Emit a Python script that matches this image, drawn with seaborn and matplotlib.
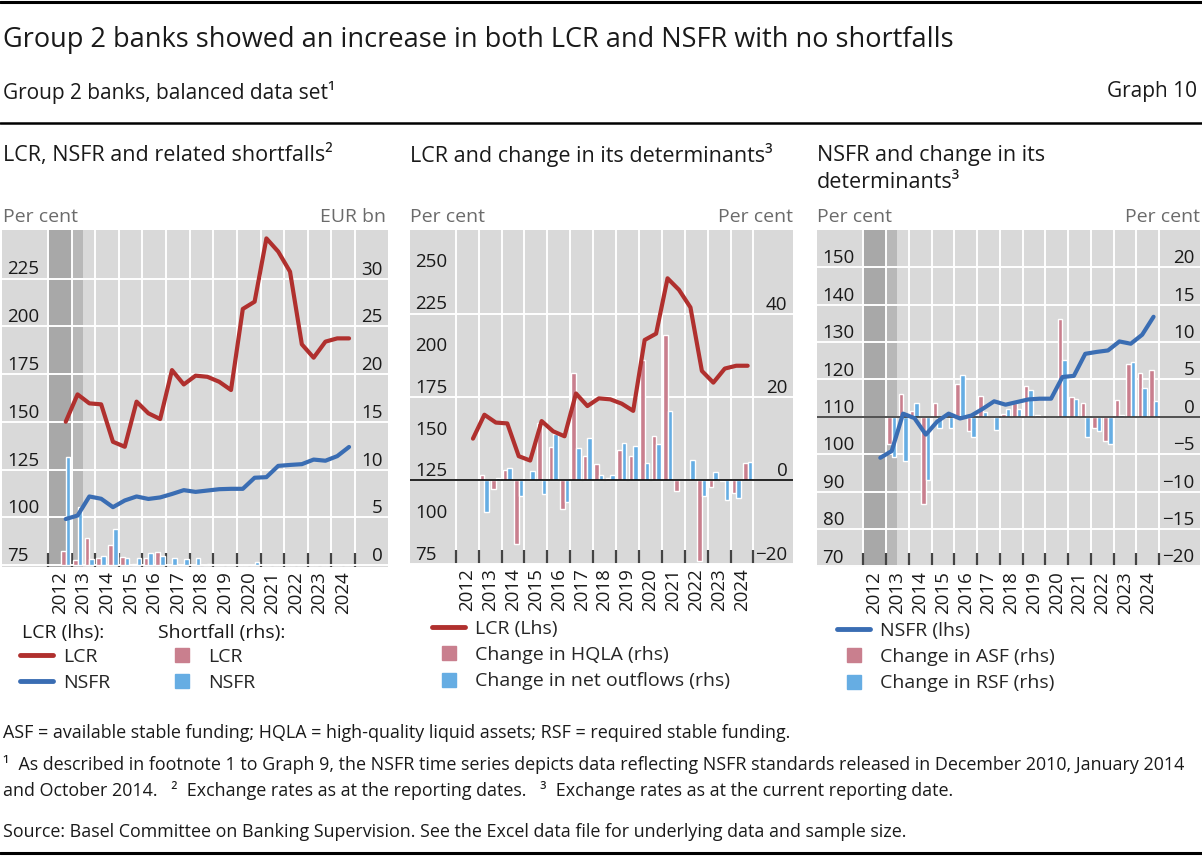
import numpy as np
import pandas as pd
import matplotlib
matplotlib.use("Agg")
import matplotlib.pyplot as plt
import seaborn as sns
from matplotlib.lines import Line2D

sns.set_theme(style="white")
plt.rcParams['font.family'] = ['Open Sans', 'DejaVu Sans']

# ---------------- data ----------------
periods = ["2012H2", "2013H1", "2013H2", "2014H1", "2014H2", "2015H1", "2015H2", "2016H1", "2016H2",
           "2017H1", "2017H2", "2018H1", "2018H2", "2019H1", "2019H2", "2020H1", "2020H2",
           "2021H1", "2021H2", "2022H1", "2022H2", "2023H1", "2023H2", "2024H1", "2024H2"]
lcr = [150.0, 164.3, 159.6, 159.1, 139.5, 136.9, 160.5, 154.4, 151.4, 177.0, 169.5, 174.1, 173.5,
       170.9, 166.6, 209.0, 212.8, 245.9, 239.0, 228.5, 190.5, 183.5, 191.9, 193.6, 193.6]
nsfr = [99.1, 100.9, 110.9, 109.7, 105.3, 108.8, 110.9, 109.6, 110.4, 112.2, 114.2, 113.3, 114.0,
        114.7, 114.9, 114.9, 120.7, 121.0, 126.9, 127.4, 127.8, 130.2, 129.6, 132.0, 136.8]
short_lcr = [1.5, 0.5, 2.8, 0.7, 2.1, 0.8, 0.1, 0.7, 1.4, 0, 0, 0, 0, 0, 0, 0, 0, 0, 0, 0, 0, 0, 0, 0, 0]
short_nsfr = [11.3, 6.1, 0.6, 0.9, 3.8, 0.7, 0.7, 1.3, 0.9, 0.7, 0.6, 0.7, 0.1, 0, 0, 0, 0.35, 0, 0, 0, 0, 0, 0, 0, 0]
# changes (from 2013H1 onwards)
chg_hqla = [1.3, -2.0, 2.5, -15.4, 0.4, 13.9, 8.0, -6.9, 25.7, 5.9, 4.0, 0.6, 7.2, 5.9, 29.0, 10.6,
            35.0, -2.6, 0.0, -19.3, -1.7, -0.2, -3.1, 4.3]
chg_outflows = [-7.5, 0.6, 2.9, -3.8, 2.3, -3.2, 11.2, -5.1, 7.8, 10.3, 1.3, 1.2, 9.1, 8.3, 4.3, 8.7,
                16.7, 0.0, 4.9, -3.8, 2.0, -4.6, -4.3, 4.4]
chg_asf = [-3.7, 3.1, 0.8, -11.7, 1.9, 0.0, 4.4, -1.9, 2.8, 0.0, 0.4, 1.8, 4.1, 0.2, 0.0, 13.1,
           2.6, 1.9, -1.5, -3.2, 2.2, 7.1, 5.9, 6.2]
chg_rsf = [-5.4, -5.9, 1.9, -8.5, -1.5, -1.5, 5.6, -2.7, 0.7, -1.8, 1.0, 1.0, 3.6, 0.0, 0.0, 7.6,
           2.4, -2.7, -1.9, -3.7, 0.3, 7.3, 3.9, 2.1]
years = list(range(2012, 2025))

def pos(p):
    return int(p[:4]) + (0.25 if p.endswith("H1") else 0.75)

x_all = np.array([pos(p) for p in periods])
x_chg = x_all[1:]
df = pd.DataFrame({"x": x_all, "LCR": lcr, "NSFR": nsfr})

RED = "#b0302e"
BLUE = "#3a6db3"
PINK = "#c97f8e"
LBLUE = "#66ade3"
BG = "#d9d9d9"
TXT = "#1a1a1a"
GREY = "#6b6b6b"
TICK = 13.5

W, H = 1202, 857
fig = plt.figure(figsize=(W / 100, H / 100), dpi=100)

def fx(px):
    return px / W

def fy(py):
    return 1 - py / H

def make_axes(x0, x1, y0, y1, xlim, lylim, lticks, rylim, rticks, shade):
    ax2 = fig.add_axes([fx(x0), fy(y1), fx(x1 - x0), (y1 - y0) / H])
    ax = ax2.twinx()
    ax2.yaxis.tick_right()
    ax.yaxis.tick_left()
    ax2.set_facecolor(BG)
    ax.patch.set_visible(False)
    for a in (ax, ax2):
        for s in a.spines.values():
            s.set_visible(False)
    ax2.set_xlim(*xlim)
    ax.set_ylim(*lylim)
    ax2.set_ylim(*rylim)
    ax.set_yticks(lticks)
    ax2.set_yticks(rticks)
    ax2.set_yticklabels([str(t).replace("-", "\u2212") for t in rticks])
    ax.set_yticklabels([str(t) for t in lticks])
    ax2.set_xticks(range(2012, 2026))
    ax2.set_xticks([y + 0.5 for y in years], minor=True)
    ax2.set_xticklabels([str(y) for y in years], minor=True, rotation=90, fontsize=TICK, color=TXT)
    ax2.set_xticklabels([], minor=False)
    ax2.tick_params(axis='x', which='major', direction='in', length=10, width=1.6, color="#444444", bottom=True)
    ax2.tick_params(axis='x', which='minor', length=0, pad=3, bottom=True)
    ax2.grid(True, axis='both', which='major', color='white', linewidth=1.4)
    ax2.set_axisbelow(True)
    ax.tick_params(axis='y', length=0, pad=-4, labelsize=TICK, labelcolor=TXT, left=True, right=False,
                   labelleft=True, labelright=False)
    ax2.tick_params(axis='y', length=0, pad=-4, labelsize=TICK, labelcolor=TXT, left=False, right=True,
                    labelleft=False, labelright=True)
    ax.tick_params(axis='x', bottom=False, top=False, labelbottom=False, labeltop=False)
    for l in ax.get_yticklabels():
        l.set_ha('left'); l.set_va('bottom')
    for l in ax2.get_yticklabels():
        l.set_ha('right'); l.set_va('bottom')
    if shade:
        ax2.axvspan(2012, 2013, color="#a8a8a8", lw=0, zorder=0.5)
        ax2.axvspan(2013, 2013.5, color="#b8b8b8", lw=0, zorder=0.5)
    ax.set_xlim(*xlim)
    return ax, ax2

bw = 0.2
# ---- Panel 1 ----
a1, b1 = make_axes(2, 388, 230, 567, (2010.05, 2026.4), (74, 250.3), [75, 100, 125, 150, 175, 200, 225],
                   (-0.2, 35.1), [0, 5, 10, 15, 20, 25, 30], True)
b1.bar(x_all - 0.1, short_lcr, width=bw, color=PINK, zorder=2)
b1.bar(x_all + 0.1, short_nsfr, width=bw, color=LBLUE, zorder=2)
sns.lineplot(data=df, x="x", y="LCR", ax=a1, color=RED, linewidth=3, legend=False)
sns.lineplot(data=df, x="x", y="NSFR", ax=a1, color=BLUE, linewidth=3, legend=False)
a1.set_xlabel(""); a1.set_ylabel("")

# ---- Panel 2 ----
a2, b2 = make_axes(410, 793, 230, 564, (2010.0, 2026.73), (75, 274.8), [75, 100, 125, 150, 175, 200, 225, 250],
                   (-20.1, 60.2), [-20, 0, 20, 40], False)
b2.bar(x_chg - 0.1, chg_hqla, width=bw, color=PINK, zorder=2)
b2.bar(x_chg + 0.1, chg_outflows, width=bw, color=LBLUE, zorder=2)
b2.axhline(0, color="black", linewidth=1.2, zorder=3)
sns.lineplot(data=df, x="x", y="LCR", ax=a2, color=RED, linewidth=3, legend=False)
a2.set_xlabel(""); a2.set_ylabel("")

# ---- Panel 3 ----
a3, b3 = make_axes(817, 1200, 230, 567, (2009.97, 2026.79), (69.9, 160), [70, 80, 90, 100, 110, 120, 130, 140, 150],
                   (-20.1, 25), [-20, -15, -10, -5, 0, 5, 10, 15, 20], True)
b3.bar(x_chg - 0.1, chg_asf, width=bw, color=PINK, zorder=2)
b3.bar(x_chg + 0.1, chg_rsf, width=bw, color=LBLUE, zorder=2)
b3.axhline(0, color="#333333", linewidth=1.2, zorder=3)
sns.lineplot(data=df, x="x", y="NSFR", ax=a3, color=BLUE, linewidth=3, legend=False)
a3.set_xlabel(""); a3.set_ylabel("")

# ---- texts ----
def t(px, py, s, size, color=TXT, ha='left', va='center'):
    fig.text(fx(px), fy(py), s, fontsize=size, color=color, ha=ha, va=va)

fig.add_artist(Line2D([0, 1], [fy(1.5), fy(1.5)], color='black', lw=2.2))
fig.add_artist(Line2D([0, 1], [fy(123), fy(123)], color='black', lw=1.8))
fig.add_artist(Line2D([0, 1], [fy(853), fy(853)], color='black', lw=2.2))
t(3, 40, "Group 2 banks showed an increase in both LCR and NSFR with no shortfalls", 19.5)
t(3, 92, "Group 2 banks, balanced data set\u00b9", 15)
t(1197, 92, "Graph 10", 15, ha='right')
t(3, 155, "LCR, NSFR and related shortfalls\u00b2", 15.5)
t(410, 155, "LCR and change in its determinants\u00b3", 15.5)
t(817, 155, "NSFR and change in its", 15.5)
t(817, 183, "determinants\u00b3", 15.5)
t(3, 217, "Per cent", 14, GREY)
t(386, 217, "EUR bn", 14, GREY, ha='right')
t(410, 217, "Per cent", 14, GREY)
t(793, 217, "Per cent", 14, GREY, ha='right')
t(817, 217, "Per cent", 14, GREY)
t(1200, 217, "Per cent", 14, GREY, ha='right')

FS = 12.9
t(3, 733, "ASF = available stable funding; HQLA = high-quality liquid assets; RSF = required stable funding.", FS)
t(3, 764, "\u00b9  As described in footnote 1 to Graph 9, the NSFR time series depicts data reflecting NSFR standards released in December 2010, January 2014", FS)
t(3, 790, "and October 2014.   \u00b2  Exchange rates as at the reporting dates.   \u00b3  Exchange rates as at the current reporting date.", FS)
t(3, 832, "Source: Basel Committee on Banking Supervision. See the Excel data file for underlying data and sample size.", FS)

# ---- legends ----
def sq(c):
    return Line2D([], [], color=c, marker='s', markersize=10, linestyle='none')

def ln(c):
    return Line2D([], [], color=c, linewidth=3.5)

leg_kw = dict(frameon=False, fontsize=14, handlelength=1.7, handletextpad=0.5, labelspacing=0.42,
              borderpad=0, borderaxespad=0, loc='upper left')
t(22, 633, "LCR (lhs):", 14)
t(158, 633, "Shortfall (rhs):", 14)
fig.legend([ln(RED), ln(BLUE)], ["LCR", "NSFR"], bbox_to_anchor=(fx(20), fy(648)), **leg_kw)
fig.legend([sq(PINK), sq(LBLUE)], ["LCR", "NSFR"], bbox_to_anchor=(fx(165), fy(648)), **leg_kw)
fig.legend([ln(RED), sq(PINK), sq(LBLUE)], ["LCR (Lhs)", "Change in HQLA (rhs)", "Change in net outflows (rhs)"],
           bbox_to_anchor=(fx(432), fy(620)), **leg_kw)
fig.legend([ln(BLUE), sq(PINK), sq(LBLUE)], ["NSFR (lhs)", "Change in ASF (rhs)", "Change in RSF (rhs)"],
           bbox_to_anchor=(fx(837), fy(622)), **leg_kw)

fig.savefig("out.png", dpi=100, facecolor='white')
